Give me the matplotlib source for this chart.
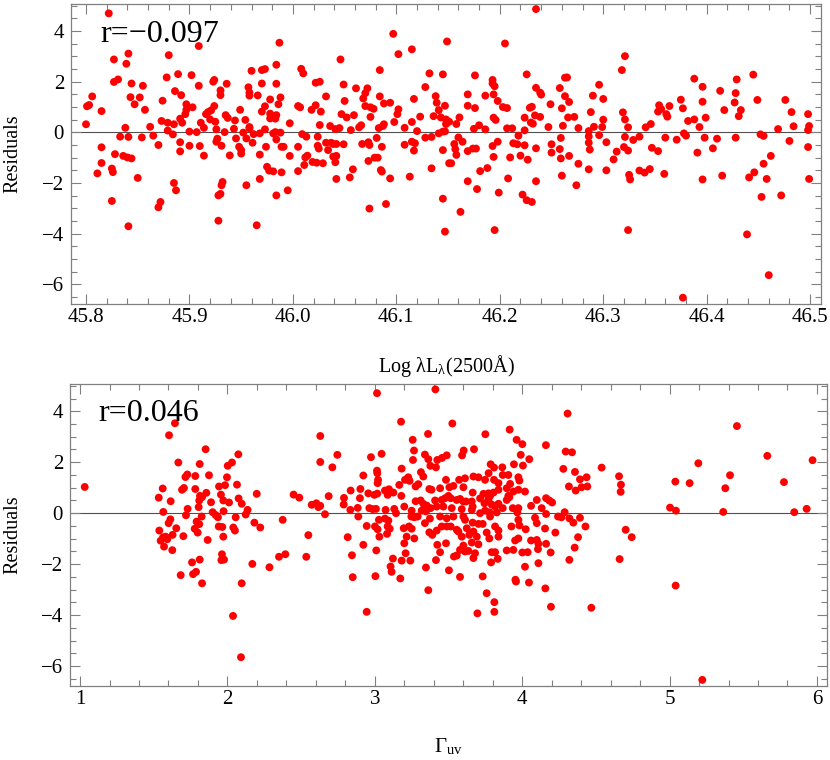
import matplotlib
matplotlib.use("Agg")
import numpy as np
import matplotlib.pyplot as plt
from matplotlib.ticker import MultipleLocator, FuncFormatter

lum_a = [(45.822, 4.70), (45.909, 3.41), (45.841, 3.11), (45.827, 2.88), (45.839, 2.71), (45.880, 3.05),
         (45.960, 2.43), (45.970, 2.46), (45.973, 2.50), (45.831, 2.09), (45.827, 1.99), (45.844, 1.93),
         (45.855, 1.84), (45.878, 2.17), (45.889, 2.30), (45.902, 2.26), (45.923, 2.00), (45.924, 2.07),
         (45.936, 1.92), (45.909, 1.84), (45.957, 1.78), (45.958, 1.57), (45.958, 1.45), (45.970, 1.93),
         (45.966, 1.46), (45.978, 1.30), (45.806, 1.42), (45.803, 1.08), (45.801, 1.03), (45.815, 0.84),
         (45.843, 1.39), (45.852, 1.38), (45.847, 1.11), (45.857, 0.89), (45.874, 1.25), (45.886, 1.63),
         (45.892, 1.47), (45.930, 1.66), (45.930, 1.47), (45.897, 1.11), (45.903, 0.99), (45.897, 0.89),
         (45.896, 0.72), (45.891, 0.54), (45.893, 0.38), (45.918, 0.80), (45.921, 0.87), (45.924, 1.04),
         (45.916, 0.72), (45.920, 0.51), (45.925, 0.42), (45.935, 0.68), (45.937, 0.57), (45.944, 0.47),
         (45.949, 0.89), (45.954, 0.49), (45.958, 0.21), (45.973, 1.03), (45.970, 0.82), (45.978, 0.74),
         (45.978, 0.55), (45.911, 0.38), (45.914, 0.18), (45.873, 0.45), (45.879, 0.38), (45.885, 0.32),
         (45.862, 0.22), (45.838, 0.18), (45.800, 0.32), (45.833, -0.17), (45.841, -0.18), (45.854, -0.20),
         (45.865, -0.13), (45.879, 0.07), (45.884, -0.08), (45.900, 0.03), (45.907, 0.01), (45.926, 0.12),
         (45.934, 0.01), (45.943, 0.14), (45.952, -0.01), (45.955, -0.24), (45.958, 0.16), (45.962, -0.07),
         (45.968, -0.04), (45.973, 0.12), (45.927, -0.25), (45.926, -0.37), (45.931, -0.53), (45.945, -0.24),
         (45.948, -0.57), (45.950, -0.70), (45.950, -0.84), (45.961, -0.41), (45.974, -0.57), (45.968, -0.88),
         (45.975, -1.36), (45.977, -1.51), (45.968, -1.84), (45.955, -2.09), (45.939, -0.91), (45.914, -0.92),
         (45.910, -0.54), (45.900, -0.53), (45.891, -0.39), (45.891, -0.75), (45.870, -0.50), (45.815, -0.59),
         (45.828, -0.86), (45.836, -0.93), (45.840, -0.99), (45.844, -1.03), (45.815, -1.21), (45.811, -1.62),
         (45.825, -1.43), (45.826, -1.57), (45.850, -1.80), (45.885, -2.00), (45.887, -2.29), (45.872, -2.75),
         (45.870, -2.96), (45.825, -2.71), (45.841, -3.71), (45.932, -1.96), (45.931, -2.09), (45.930, -2.43),
         (45.928, -2.49), (45.928, -3.49), (45.965, -3.67)]

lum_b = [(46.097, 3.89), (46.149, 3.59), (45.987, 3.54), (46.115, 3.28), (46.102, 3.09), (46.046, 2.88),
         (45.984, 2.67), (46.008, 2.51), (46.010, 2.33), (46.084, 2.46), (46.132, 2.33), (46.145, 2.29),
         (46.022, 1.96), (46.026, 2.00), (45.984, 1.92), (46.049, 1.89), (46.061, 1.74), (46.072, 1.74),
         (46.128, 1.79), (46.070, 1.55), (46.068, 1.34), (46.032, 1.42), (46.084, 1.42), (46.138, 1.43),
         (45.988, 1.38), (45.986, 1.11), (46.117, 1.32), (46.050, 1.24), (46.088, 1.14), (46.094, 1.17),
         (46.139, 1.17), (46.147, 1.05), (46.005, 1.04), (46.007, 0.99), (46.018, 0.89), (46.022, 1.07),
         (46.027, 0.82), (46.070, 1.04), (46.075, 0.99), (46.078, 0.93), (46.075, 0.61), (46.102, 0.91),
         (46.101, 0.72), (46.141, 0.88), (45.984, 0.68), (45.983, 0.54), (46.047, 0.72), (46.052, 0.59),
         (46.059, 0.68), (46.123, 0.62), (46.136, 0.64), (46.143, 0.59), (46.148, 0.51), (46.151, 0.42),
         (46.148, 0.33), (46.115, 0.41), (46.098, 0.41), (46.088, 0.32), (46.087, 0.25), (46.083, 0.17),
         (46.026, 0.29), (46.036, 0.25), (46.041, 0.13), (46.045, 0.17), (46.064, 0.20), (46.066, 0.28),
         (46.056, 0.09), (45.997, 0.36), (46.108, 0.18), (46.120, 0.05), (46.145, 0.03), (46.147, 0.04),
         (46.141, -0.04), (45.981, -0.04), (45.983, 0.01), (45.988, -0.01), (46.009, -0.07), (46.013, -0.17),
         (46.024, -0.17), (45.984, -0.28), (46.081, -0.22), (46.128, -0.21), (46.134, -0.18), (46.032, -0.41),
         (46.037, -0.41), (46.039, -0.46), (46.042, -0.46), (46.049, -0.47), (46.067, -0.46), (46.073, -0.39),
         (46.074, -0.50), (46.108, -0.49), (46.115, -0.37), (46.118, -0.43), (46.117, -0.72), (45.989, -0.57),
         (45.991, -0.57), (46.005, -0.57), (46.024, -0.53), (46.025, -0.64), (46.034, -0.70), (46.086, -0.57),
         (46.145, -0.70), (45.997, -0.93), (46.012, -0.99), (46.014, -0.92), (46.039, -0.96), (46.042, -0.93),
         (46.079, -1.00), (46.082, -1.00), (46.073, -1.13), (46.041, -1.18), (46.019, -1.17), (46.023, -1.20),
         (46.029, -1.22), (46.011, -1.29), (46.151, -1.22), (46.153, -1.22), (46.134, -1.42), (45.981, -1.54),
         (45.989, -1.58), (46.005, -1.53), (46.058, -1.46), (46.085, -1.49), (46.086, -1.55), (46.055, -1.78),
         (46.042, -1.84), (46.094, -1.82), (46.113, -1.75), (45.995, -2.29), (45.984, -2.49), (46.145, -2.62),
         (46.090, -2.83), (46.074, -3.01), (46.147, -3.92)]

lum_c = [(46.235, 4.87), (46.205, 3.51), (46.321, 3.01), (46.318, 2.46), (46.176, 2.25), (46.226, 2.29),
         (46.193, 2.07), (46.193, 1.93), (46.195, 1.82), (46.235, 1.76), (46.239, 1.57), (46.240, 1.49),
         (46.263, 2.16), (46.265, 2.17), (46.296, 1.88), (46.258, 1.75), (46.169, 1.50), (46.186, 1.45),
         (46.194, 1.50), (46.198, 1.24), (46.263, 1.43), (46.267, 1.20), (46.290, 1.45), (46.300, 1.32),
         (46.169, 1.05), (46.176, 0.96), (46.203, 1.00), (46.207, 0.96), (46.229, 0.97), (46.231, 1.01),
         (46.249, 1.11), (46.260, 0.95), (46.319, 0.79), (46.288, 0.80), (46.224, 0.58), (46.234, 0.67),
         (46.239, 0.61), (46.194, 0.58), (46.196, 0.49), (46.230, 0.39), (46.232, 0.34), (46.266, 0.59),
         (46.272, 0.61), (46.321, 0.51), (46.300, 0.50), (46.161, 0.59), (46.158, 0.33), (46.180, 0.28),
         (46.175, 0.14), (46.186, 0.12), (46.207, 0.16), (46.212, 0.16), (46.224, 0.08), (46.247, 0.21),
         (46.261, 0.26), (46.276, 0.17), (46.291, 0.22), (46.299, 0.21), (46.324, 0.20), (46.286, 0.05),
         (46.160, -0.20), (46.164, -0.37), (46.156, -0.46), (46.157, -0.66), (46.158, -0.89), (46.169, -0.74),
         (46.174, -0.64), (46.177, -0.64), (46.193, -0.54), (46.198, -0.37), (46.213, -0.43), (46.217, -0.47),
         (46.218, -0.13), (46.224, -0.51), (46.235, -0.63), (46.250, -0.47), (46.250, -0.80), (46.259, -0.22),
         (46.258, -0.66), (46.259, -1.03), (46.286, -0.16), (46.286, -0.41), (46.287, -0.68), (46.296, -0.11),
         (46.303, -0.39), (46.321, -0.18), (46.320, -0.58), (46.324, -0.72), (46.329, -0.30), (46.335, -0.17),
         (46.194, -0.97), (46.210, -0.99), (46.220, -0.92), (46.227, -1.08), (46.267, -0.93), (46.276, -1.24),
         (46.310, -1.07), (46.313, -0.76), (46.181, -1.53), (46.188, -1.41), (46.286, -1.46), (46.303, -1.50),
         (46.325, -1.68), (46.326, -1.86), (46.335, -1.51), (46.260, -1.71), (46.169, -1.93), (46.208, -1.82),
         (46.235, -1.93), (46.274, -2.09), (46.178, -2.24), (46.199, -2.38), (46.222, -2.46), (46.226, -2.68),
         (46.231, -2.75), (46.162, -3.14), (46.195, -3.86), (46.324, -3.86)]

lum_d = [(46.388, 2.12), (46.396, 1.80), (46.429, 2.09), (46.445, 2.28), (46.413, 1.64), (46.428, 1.55),
         (46.449, 1.28), (46.476, 1.28), (46.375, 1.29), (46.396, 1.21), (46.427, 1.18), (46.354, 1.07),
         (46.364, 1.04), (46.377, 0.95), (46.417, 0.88), (46.433, 0.88), (46.482, 0.80), (46.356, 0.92),
         (46.353, 0.82), (46.361, 0.72), (46.362, 0.62), (46.399, 0.58), (46.431, 0.64), (46.498, 0.72),
         (46.382, 0.45), (46.388, 0.51), (46.393, 0.21), (46.341, 0.20), (46.346, 0.33), (46.484, 0.24),
         (46.469, 0.13), (46.499, 0.25), (46.498, 0.09), (46.378, -0.04), (46.380, -0.13), (46.452, -0.08),
         (46.455, -0.14), (46.360, -0.21), (46.371, -0.29), (46.398, -0.21), (46.410, -0.25), (46.428, -0.21),
         (46.480, -0.34), (46.498, -0.58), (46.347, -0.61), (46.353, -0.74), (46.406, -0.63), (46.391, -0.80),
         (46.462, -0.93), (46.455, -1.24), (46.446, -1.58), (46.441, -1.78), (46.340, -1.59), (46.345, -1.45),
         (46.359, -1.64), (46.396, -1.86), (46.415, -1.71), (46.458, -1.84), (46.499, -1.84), (46.453, -2.55),
         (46.472, -2.49), (46.439, -4.03), (46.460, -5.64), (46.377, -6.53)]

# bottom panel: (Gamma_uv, residual)
gam_a = [(1.032, 1.03), (1.644, 3.53), (1.604, 3.06), (1.852, 2.51), (2.074, 2.31), (1.667, 1.99),
         (1.812, 1.93), (2.002, 1.86), (2.031, 1.99), (1.728, 1.52), (1.715, 1.42), (1.782, 1.46),
         (1.875, 1.49), (1.997, 1.41), (1.561, 0.97), (1.705, 0.99), (1.692, 0.92), (1.782, 0.95),
         (1.943, 1.05), (1.984, 1.10), (2.065, 1.12), (1.534, 0.61), (1.615, 0.47), (1.857, 0.80),
         (1.814, 0.68), (1.828, 0.63), (1.809, 0.50), (1.956, 0.73), (1.972, 0.50), (2.011, 0.42),
         (2.076, 0.58), (2.097, 0.37), (1.889, 0.43), (1.805, 0.24), (1.730, 0.17), (1.565, 0.05),
         (2.137, 0.13), (1.900, 0.04), (1.920, -0.07), (1.719, -0.08), (1.825, -0.13), (1.936, -0.16),
         (1.974, 0.08), (2.056, -0.16), (2.124, -0.05), (1.613, -0.24), (1.601, -0.39), (1.653, -0.59),
         (1.538, -0.68), (1.791, -0.33), (1.809, -0.43), (1.778, -0.61), (1.798, -0.76), (1.941, -0.52),
         (1.965, -0.54), (2.040, -0.56), (2.051, -0.68), (1.563, -0.95), (1.581, -0.92), (1.547, -1.08),
         (1.592, -1.02), (1.570, -1.31), (1.628, -0.85), (1.701, -0.90), (1.866, -1.05), (1.972, -0.92),
         (1.626, -1.45), (1.963, -1.61), (1.959, -1.84), (1.977, -1.82), (1.812, -1.82), (1.760, -1.93),
         (1.787, -2.30), (1.767, -2.39), (1.683, -2.43), (1.828, -2.75), (2.097, -2.75), (2.038, -4.03),
         (2.092, -5.65)]

gam_b = [(3.015, 4.71), (3.178, 3.59), (3.361, 3.11), (3.257, 2.88), (2.630, 3.03), (3.266, 2.46),
         (3.340, 2.30), (3.363, 2.12), (3.377, 1.86), (3.046, 2.33), (2.974, 2.20), (2.746, 2.29),
         (2.630, 2.01), (2.712, 1.80), (3.259, 2.09), (3.182, 1.75), (3.015, 1.67), (3.017, 1.57),
         (2.922, 1.48), (3.313, 1.61), (3.329, 1.44), (3.227, 1.41), (3.205, 1.31), (3.236, 1.27),
         (3.022, 1.31), (3.019, 1.18), (3.166, 1.11), (3.295, 1.14), (3.277, 1.05), (2.836, 0.89),
         (2.902, 0.95), (2.899, 0.59), (2.199, 0.76), (2.449, 0.73), (2.488, 0.61), (2.687, 0.67),
         (2.791, 0.60), (2.789, 0.34), (2.956, 0.78), (2.997, 0.72), (3.017, 0.77), (3.069, 0.89),
         (3.096, 0.94), (3.087, 0.72), (3.126, 0.81), (3.180, 0.68), (3.370, 0.95), (3.385, 0.92),
         (3.277, 0.47), (3.311, 0.50), (3.329, 0.37), (3.352, 0.30), (2.572, 0.33), (2.603, 0.39),
         (2.617, 0.24), (2.630, 0.29), (2.662, -0.04), (2.834, 0.13), (2.884, 0.21), (2.888, -0.13),
         (2.963, 0.20), (2.985, 0.16), (3.008, 0.17), (3.073, 0.13), (3.132, 0.17), (3.144, 0.00),
         (3.200, 0.26), (3.250, 0.10), (3.248, -0.13), (3.268, -0.16), (3.291, -0.13), (3.318, 0.10),
         (3.347, 0.07), (3.379, 0.20), (3.374, -0.21), (2.183, -0.37), (2.223, -0.56), (2.375, -0.26),
         (2.549, -0.86), (2.169, -1.99), (2.285, -2.12), (2.350, -1.71), (2.393, -1.61), (2.535, -1.71),
         (2.816, -0.94), (2.845, -1.65), (2.922, -1.24), (2.945, -0.50), (3.010, -1.46), (3.004, -2.47),
         (2.850, -2.51), (2.945, -3.87), (3.001, -0.52), (3.019, -0.63), (3.028, -0.26), (3.031, -0.92),
         (3.069, -0.21), (3.092, -0.29), (3.087, -0.52), (3.101, -0.61), (3.083, -0.81), (3.196, -0.59),
         (3.232, -0.52), (3.250, -0.61), (3.216, -0.92), (3.268, -0.99), (3.200, -1.18), (3.209, -1.57),
         (3.123, -1.78), (3.182, -1.86), (3.241, -1.86), (3.107, -2.09), (3.114, -2.30), (3.173, -2.56),
         (3.340, -0.39), (3.370, -0.75), (3.390, -0.85), (3.347, -2.13), (3.363, -3.02)]

gam_c = [(3.411, 4.86), (3.526, 3.52), (4.308, 3.91), (3.750, 3.10), (3.915, 3.28), (3.962, 2.88),
         (4.001, 2.71), (4.161, 2.67), (3.603, 2.46), (3.592, 2.27), (3.673, 2.51), (4.295, 2.42),
         (4.338, 2.39), (3.990, 2.29), (4.048, 2.12), (4.005, 1.87), (3.944, 1.92), (3.786, 1.92),
         (3.809, 1.79), (3.865, 1.80), (3.772, 1.57), (3.906, 1.50), (3.424, 2.09), (3.456, 2.17),
         (3.488, 2.27), (3.415, 1.80), (4.279, 1.74), (4.539, 1.79), (4.358, 1.62), (4.392, 1.33),
         (4.437, 1.41), (4.317, 1.05), (4.363, 0.89), (4.403, 1.02), (4.442, 1.05), (3.483, 1.31),
         (3.572, 1.31), (3.612, 1.37), (3.669, 1.44), (3.703, 1.41), (3.748, 1.31), (3.809, 1.31),
         (3.839, 1.18), (3.868, 1.50), (3.918, 1.15), (3.974, 1.41), (3.981, 1.28), (3.443, 0.98),
         (3.506, 1.02), (3.533, 1.07), (3.601, 1.02), (3.664, 0.81), (3.737, 0.76), (3.771, 0.78),
         (3.782, 0.68), (3.805, 0.81), (3.839, 0.92), (3.895, 0.98), (3.906, 0.68), (3.940, 0.85),
         (3.974, 0.92), (4.019, 0.85), (3.409, 0.50), (3.454, 0.52), (3.477, 0.59), (3.499, 0.68),
         (3.515, 0.59), (3.556, 0.52), (3.578, 0.56), (3.601, 0.46), (3.619, 0.46), (3.658, 0.46),
         (3.664, 0.26), (3.714, 0.58), (3.744, 0.39), (3.771, 0.55), (3.793, 0.34), (3.816, 0.26),
         (3.839, 0.37), (3.895, 0.52), (3.913, 0.63), (3.936, 0.20), (3.974, 0.20), (4.060, 0.29),
         (4.099, 0.52), (4.162, 0.59), (4.184, 0.50), (4.203, 0.42), (4.132, 0.20), (3.420, 0.26),
         (3.465, 0.26), (3.522, 0.20), (3.590, 0.16), (3.658, 0.13), (3.714, 0.00), (3.748, 0.10),
         (3.777, 0.04), (3.827, 0.03), (3.868, 0.20), (3.967, 0.03), (4.162, -0.03), (3.443, -0.13),
         (3.488, -0.20), (3.533, -0.13), (3.601, -0.13), (3.612, -0.26), (3.664, -0.37), (3.703, -0.42),
         (3.732, -0.42), (3.782, -0.13), (3.816, -0.52), (3.839, -0.68), (3.927, -0.52), (3.974, -0.26),
         (3.981, -0.48), (4.024, -0.63), (4.087, -0.18), (4.099, -0.39), (4.155, -0.60), (4.243, -0.13),
         (4.266, -0.16), (4.288, 0.04), (4.320, -0.20), (4.347, -0.37), (4.392, -0.18), (4.429, -0.52),
         (3.420, -0.68), (3.454, -0.52), (3.488, -0.52), (3.515, -0.52), (3.556, -0.65), (3.567, -0.72),
         (3.624, -0.59), (3.641, -0.85), (3.590, -0.92), (3.669, -0.72), (3.692, -0.92), (3.759, -0.76),
         (3.777, -0.99), (3.839, -0.92), (3.952, -1.07), (3.974, -0.99), (4.060, -1.07), (4.099, -1.05),
         (4.110, -1.20), (4.162, -1.20), (4.225, -0.76), (4.379, -0.94), (3.424, -1.24), (3.443, -1.53),
         (3.415, -1.84), (3.483, -1.18), (3.537, -1.70), (3.556, -1.66), (3.601, -1.27), (3.578, -1.44),
         (3.612, -1.50), (3.635, -1.48), (3.658, -1.15), (3.680, -1.57), (3.669, -1.76), (3.703, -1.22),
         (3.793, -1.53), (3.816, -1.53), (3.834, -1.79), (3.789, -1.93), (3.895, -1.46), (3.940, -1.44),
         (4.001, -1.54), (4.037, -1.53), (4.107, -1.41), (4.110, -1.96), (4.193, -1.54), (4.019, -2.10),
         (4.356, -1.35), (4.320, -1.83), (3.503, -2.24), (3.578, -2.50), (3.732, -2.48), (3.759, -3.14),
         (3.811, -3.49), (3.811, -3.87), (3.696, -3.93), (3.954, -2.61), (3.958, -2.68), (4.046, -2.72),
         (4.157, -2.95), (4.195, -3.67), (4.469, -3.71)]

gam_d = [(4.657, 1.45), (4.670, 1.12), (4.668, 0.84), (4.702, -0.65), (4.743, -0.94), (4.661, -1.80),
         (5.003, 0.22), (5.043, 0.10), (5.039, 1.24), (5.136, 1.18), (5.195, 1.96), (5.041, -2.84),
         (5.222, -6.54), (5.457, 3.42), (5.410, 1.49), (5.378, 0.98), (5.364, 0.05), (5.663, 2.25),
         (5.776, 1.22), (5.846, 0.04), (5.930, 0.17), (5.970, 2.08)]

r_lum = "r=\u22120.097"
r_gam = "r=0.046"

serif = ['Liberation Serif', 'DejaVu Serif']
plt.rcParams['font.family'] = serif
plt.rcParams['mathtext.fontset'] = 'stix'

W, H = 830, 760
fig = plt.figure(figsize=(W / 100, H / 100), dpi=100)
ax1 = fig.add_axes([71 / W, 1 - 304 / H, 750 / W, 300 / H])
ax2 = fig.add_axes([70 / W, 1 - 686 / H, 757 / W, 302 / H])

frame = '#808080'


def minus(s):
    return s.replace('-', '\u2212')


def style(ax, xmaj, xmin, xfmt):
    ax.xaxis.set_major_locator(MultipleLocator(xmaj))
    ax.xaxis.set_minor_locator(MultipleLocator(xmin))
    ax.yaxis.set_major_locator(MultipleLocator(2))
    ax.yaxis.set_minor_locator(MultipleLocator(0.5))
    ax.xaxis.set_major_formatter(FuncFormatter(lambda v, p: minus(xfmt.format(v + 0.0))))
    ax.yaxis.set_major_formatter(FuncFormatter(lambda v, p: minus(str(int(round(v))))))
    ax.tick_params(which='both', direction='in', top=True, right=True,
                   color=frame, width=0.8, labelsize=15, labelfontfamily=serif)
    ax.tick_params(which='major', length=7)
    ax.tick_params(which='minor', length=4)
    ax.tick_params(axis='x', pad=3)
    ax.tick_params(axis='y', pad=5)
    for sp in ax.spines.values():
        sp.set_color(frame)
        sp.set_linewidth(0.9)
    ax.axhline(0, color='#505050', lw=0.8, zorder=1)
    ax.set_ylim(-6.78, 5.07)


for ax, zones in ((ax1, (lum_a, lum_b, lum_c, lum_d)), (ax2, (gam_a, gam_b, gam_c, gam_d))):
    pts = np.array([p for z in zones for p in z])
    ax.scatter(pts[:, 0], pts[:, 1], s=32, c='#ff0000', edgecolors='none', zorder=3)

style(ax1, 0.1, 0.02, '{:.1f}')
style(ax2, 1, 0.2, '{:.0f}')
ax1.set_xlim(45.7855, 46.5105)
ax2.set_xlim(0.932, 6.068)

ax1.text(0.039, 0.873, r_lum, transform=ax1.transAxes, fontsize=23, ha='left', va='baseline')
ax2.text(0.037, 0.877, r_gam, transform=ax2.transAxes, fontsize=23, ha='left', va='baseline')

ax1.text(0.5, -0.227, 'Log \u03bbL$_{\\mathregular{\u03bb}}$(2500\u00c5)', transform=ax1.transAxes,
         fontsize=14.5, ha='center', va='baseline')
ax2.text(0.5, -0.219, '\u0393$_{\\mathregular{uv}}$', transform=ax2.transAxes,
         fontsize=15, ha='center', va='baseline')

fig.text(13 / W, 1 - 154 / H, 'Residuals', rotation=90, fontsize=14.5, ha='center', va='center')
fig.text(13 / W, 1 - 535 / H, 'Residuals', rotation=90, fontsize=14.5, ha='center', va='center')

fig.savefig('out.png', dpi=100)
